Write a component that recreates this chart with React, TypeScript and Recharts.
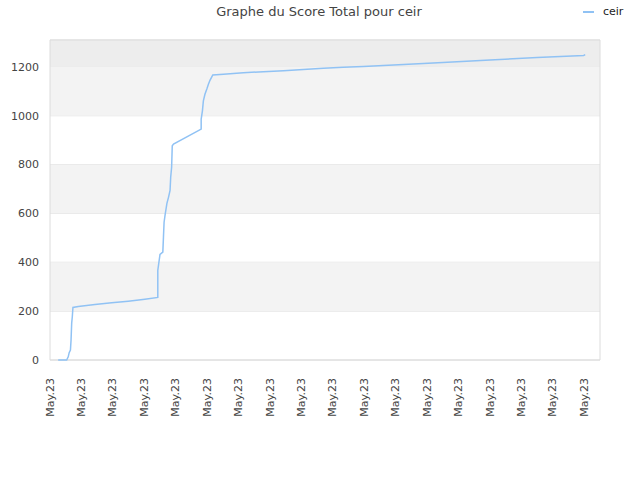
import React from 'react';
import {
  CartesianGrid,
  Line,
  LineChart,
  ReferenceArea,
  XAxis,
  YAxis
} from "recharts"

// position on the time axis (one unit per tick) and total score
const times = [
  0.26, 0.53, 0.58, 0.61, 0.65, 0.67, 0.69, 0.71, 0.73, 0.90,
  1.43, 1.96, 2.49, 3.02, 3.43, 3.43, 3.46, 3.50, 3.59, 3.61,
  3.63, 3.66, 3.72, 3.77, 3.82, 3.84, 3.87, 3.89, 3.93, 4.81,
  4.81, 4.85, 4.88, 4.93, 4.99, 5.04, 5.09, 5.18, 5.52, 6.15,
  6.79, 7.43, 8.06, 8.70, 9.33, 9.97, 10.61, 11.25, 12.5, 14.0,
  15.5, 16.98, 17.03
]
const scores = [
  0, 0, 13, 30, 41, 82, 151, 177, 215, 219,
  227, 234, 241, 249, 256, 367, 395, 432, 442, 503,
  564, 592, 641, 666, 694, 748, 789, 877, 884, 945,
  986, 1020, 1061, 1088, 1109, 1129, 1145, 1167, 1170, 1176,
  1180, 1184, 1189, 1194, 1198, 1202, 1206, 1210, 1218, 1228,
  1238, 1247, 1250
]

const xTickLabels = [
  'May.23', 'May.23', 'May.23', 'May.23', 'May.23', 'May.23',
  'May.23', 'May.23', 'May.23', 'May.23', 'May.23', 'May.23',
  'May.23', 'May.23', 'May.23', 'May.23', 'May.23', 'May.23'
]
const yTicks = [0, 200, 400, 600, 800, 1000, 1200]
const yMax = 1310

const bandFrom = [200, 600, 1000, 1200]
const bandTo = [400, 800, 1200, 1310]
const bandColors = ['#f3f3f3', '#f3f3f3', '#f3f3f3', '#ededed']

const data = times.map((t, i) => ({ t, score: scores[i] }))
const xTicks = xTickLabels.map((_, i) => i)

const FONT = '"DejaVu Sans", Verdana, sans-serif'

const XTick = (props: any) => {
  const { x, y, payload } = props
  return (
    <text
      x={x}
      y={y + 10}
      transform={`rotate(-90, ${x}, ${y + 10})`}
      textAnchor="end"
      dominantBaseline="central"
      fontSize={11}
      fill="#444"
      fontFamily={FONT}
    >
      {xTickLabels[payload.value]}
    </text>
  )
}

export default function App() {
  return (
    <div style={{ position: 'absolute', left: 0, top: 0, width: 640, height: 480, background: '#fff', fontFamily: FONT }}>
      <div style={{ position: 'absolute', left: 0, width: 638, top: 4, textAlign: 'center', fontSize: 13, color: '#444' }}>
        Graphe du Score Total pour ceir
      </div>
      <div style={{ position: 'absolute', left: 583, top: 5, fontSize: 11, color: '#222', display: 'flex', alignItems: 'center' }}>
        <span style={{ display: 'inline-block', width: 11, height: 2, background: '#90c2f4', marginRight: 9 }} />
        <span>ceir</span>
      </div>
      <LineChart
        width={640}
        height={480}
        data={data}
        margin={{ top: 40, right: 40, bottom: 0, left: 0 }}
      >
        {bandFrom.map((from, i) => (
          <ReferenceArea
            key={`band-${i}`}
            y1={from}
            y2={bandTo[i]}
            fill={bandColors[i]}
            fillOpacity={1}
            stroke="none"
          />
        ))}
        <CartesianGrid vertical={false} stroke="#dedede" fill="none" />
        <ReferenceArea y1={0} y2={yMax} fill="none" stroke="#dcdcdc" strokeWidth={1} />
        <XAxis
          dataKey="t"
          type="number"
          domain={[0, 17.5]}
          ticks={xTicks}
          interval={0}
          height={120}
          axisLine={false}
          tickLine={false}
          tick={<XTick />}
        />
        <YAxis
          type="number"
          domain={[0, yMax]}
          ticks={yTicks}
          width={50}
          axisLine={false}
          tickLine={false}
          tickMargin={5}
          tick={{ fontSize: 11, fill: '#444', fontFamily: FONT }}
        />
        <Line
          type="linear"
          dataKey="score"
          stroke="#90c2f4"
          strokeWidth={1.5}
          dot={false}
          isAnimationActive={false}
        />
      </LineChart>
    </div>
  )
}
